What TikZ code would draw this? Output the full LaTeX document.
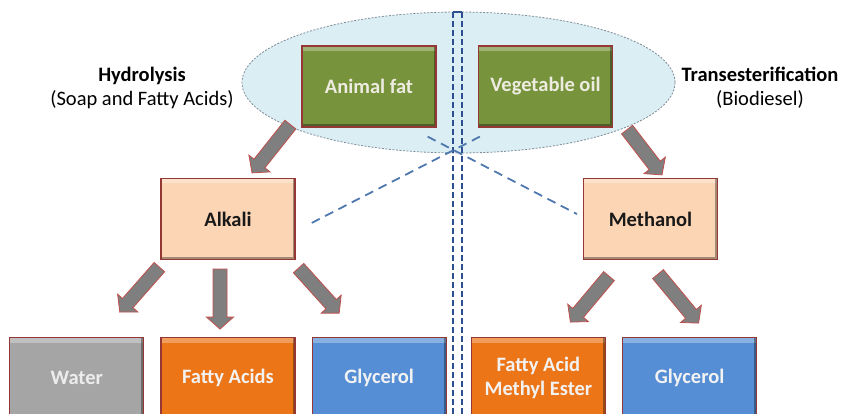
\documentclass[tikz,border=0pt]{standalone}
\usepackage{fontspec}
\setmainfont{Carlito}
\usetikzlibrary{calc,positioning}
\definecolor{boxred}{HTML}{953735}
\definecolor{fatgreen}{HTML}{77933C}
\definecolor{peach}{HTML}{FCD5B5}
\definecolor{watergray}{HTML}{A5A5A5}
\definecolor{acidorange}{HTML}{EC7518}
\definecolor{glycblue}{HTML}{558ED5}
\definecolor{cream}{HTML}{EEECE1}
\definecolor{poolblue}{HTML}{DBEEF4}
\definecolor{pooledge}{HTML}{7F8C99}
\definecolor{crossblue}{HTML}{4F78AE}
\definecolor{splitblue}{HTML}{2E4F8F}
\definecolor{arrowgray}{HTML}{7F7F7F}
\definecolor{arrowred}{HTML}{C0504D}
\tikzset{
  box/.style={draw=boxred, line width=1.2pt, minimum width=134pt, minimum height=81pt,
    inner sep=2pt, align=center, font=\fontsize{20.5}{24}\selectfont\bfseries,
    path picture={
      \fill[white,opacity=.3] (path picture bounding box.north west) rectangle ([yshift=-5pt]path picture bounding box.north east);
      \draw[black,opacity=.35,line width=5pt] (path picture bounding box.north east) -- (path picture bounding box.south east) -- (path picture bounding box.south west);
    }},
  feedbox/.style={box, fill=fatgreen, text=cream},
  agentbox/.style={box, fill=peach, text=black!90},
  waterbox/.style={box, fill=watergray, text=white!93!black},
  acidbox/.style={box, fill=acidorange, text=white!95!black},
  glycbox/.style={box, fill=glycblue, text=white!95!black},
  label/.style={align=center, font=\fontsize{20.5}{24}\selectfont},
  pool/.style={fill=poolblue, draw=pooledge, line width=0.8pt, dash pattern=on 2pt off 1.5pt},
  crossline/.style={draw=crossblue, line width=1.8pt, dash pattern=on 9pt off 6pt},
  splitline/.style={draw=splitblue, line width=1.5pt, dash pattern=on 6pt off 3pt},
  fatarr/.style={fill=arrowgray, draw=arrowred, line width=0.8pt, line join=miter}
}
\newcommand\fatarrow[2]{%
  \path ($(#2)!12pt!(#1)$) coordinate (neck);
  \draw[fatarr] ($(#1)!7pt!90:(#2)$) -- ($(neck)!7pt!90:(#2)$) -- ($(neck)!13.5pt!90:(#2)$)
    -- (#2) -- ($(neck)!13.5pt!-90:(#2)$) -- ($(neck)!7pt!-90:(#2)$) -- ($(#1)!7pt!-90:(#2)$) -- cycle;
}
\begin{document}
\begin{tikzpicture}[x=1pt,y=-1pt]
\useasboundingbox (0,0) rectangle (841,414);
\clip (0,0) rectangle (841,414);
\draw[pool] (458.5,82.5) ellipse (216.5 and 70.5);
\draw[splitline] (453,12) -- (453,420);
\draw[splitline] (462,12) -- (462,420);
\draw[splitblue, line width=1.5pt] (453,12) -- (462,12);

\node[feedbox] (fat) at (369,86.5) {Animal fat};
\node[feedbox] (veg) at (545.5,86.5) {Vegetable oil};
\node[agentbox] (alkali) at (228,219) {Alkali};
\node[agentbox] (methanol) at (650.5,219) {Methanol};
\node[acidbox, below=77pt of alkali] (acids) {Fatty Acids};
\node[waterbox, left=16pt of acids] (water) {Water};
\node[glycbox, right=16pt of acids] (glyc) {Glycerol};
\node[acidbox, right=24pt of glyc] (fame) {Fatty Acid\\Methyl Ester};
\node[glycbox, right=16pt of fame] (glycb) {Glycerol};

\node[label] (hydro) at (142,88) {\textbf{Hydrolysis}\\(Soap and Fatty Acids)};
\node[label] (trans) at (760,88) {\textbf{Transesterification}\\(Biodiesel)};

\coordinate (crossa) at ($(fat.south east)+(-9,9)$);
\coordinate (crossb) at ($(veg.south west)+(2,9)$);
\draw[crossline] (crossa) -- ($(methanol.west)+(-6,-5)$);
\draw[crossline] (crossb) -- ($(alkali.east)+(16,4)$);

\coordinate (fatout) at ($(fat.south west)+(-11,-3)$);
\coordinate (alkin) at ($(alkali.north)+(24,-5)$);
\coordinate (vegout) at ($(veg.south east)+(14,2)$);
\coordinate (methin) at ($(methanol.north)+(11.5,-3)$);
\coordinate (alkw) at ($(alkali.south west)+(-1,7)$);
\coordinate (alkm) at ($(alkali.south)+(-8,9)$);
\coordinate (alke) at ($(alkali.south east)+(3,8)$);
\coordinate (methw) at ($(methanol.south)+(-41.5,16)$);
\coordinate (methe) at ($(methanol.south)+(7.5,14)$);
\coordinate (waterin) at ($(water.north)+(43,-25)$);
\coordinate (acidsin) at ($(acids.north)+(-8,-8)$);
\coordinate (glycin) at ($(glyc.north)+(-40,-24)$);
\coordinate (famein) at ($(fame.north)+(32,-15)$);
\coordinate (glycbin) at ($(glycb.north)+(9,-14)$);

\fatarrow{fatout}{alkin}
\fatarrow{vegout}{methin}
\fatarrow{alkw}{waterin}
\fatarrow{alkm}{acidsin}
\fatarrow{alke}{glycin}
\fatarrow{methw}{famein}
\fatarrow{methe}{glycbin}
\end{tikzpicture}
\end{document}
